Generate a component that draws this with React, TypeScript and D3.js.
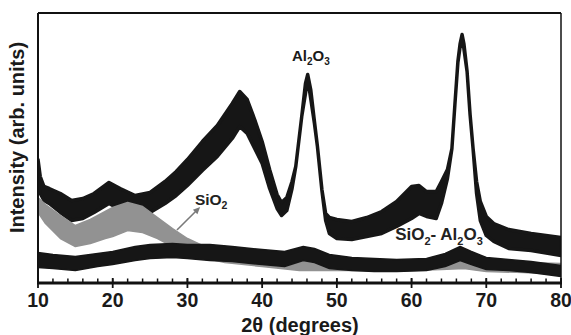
import React from "react";
import * as d3 from "d3";

// 2θ (degrees), upper and lower edge of the noisy trace (arb. units)
const al2o3Angle = [10.0, 10.3, 10.8, 11.5, 13, 14.5, 16, 17.5, 19.5, 21, 23, 25, 27, 28.5, 30, 32, 34, 36, 37, 38, 39, 40, 41, 42, 42.6, 43.3, 44, 44.5, 45.3, 45.8, 46.1, 46.5, 47.0, 47.4, 48.0, 48.5, 49, 50, 52, 54, 56, 58, 60, 61, 62, 63.3, 64, 64.8, 65.4, 65.8, 66.2, 66.5, 66.76, 67.0, 67.43, 67.83, 68.23, 68.7, 69.2, 70, 71, 73, 76, 80];
const al2o3Upper = [125, 108, 98, 96, 91, 84, 86, 91, 102, 96, 89, 92, 103, 113, 125, 143, 159, 181, 193, 185, 165, 143, 115, 90, 82, 87, 103, 118, 168, 201, 210, 195, 163, 138, 95, 71, 67, 65, 63, 67, 73, 83, 98, 99, 93, 93, 103, 115, 136, 180, 223, 241, 250, 241, 213, 170, 136, 103, 83, 68, 61, 55, 51, 47];
const al2o3Lower = [98, 88, 81, 78, 69, 61, 63, 69, 78, 72, 65, 69, 78, 86, 96, 111, 125, 143, 155, 148, 133, 118, 93, 73, 66, 71, 93, 115, 165, 188, 203, 183, 158, 135, 91, 61, 48, 43, 42, 45, 48, 55, 63, 68, 65, 63, 78, 103, 133, 177, 219, 235, 243, 233, 210, 167, 133, 88, 61, 46, 40, 33, 31, 26];

const sio2Angle = [10, 11, 13, 15, 17, 19, 20, 22, 24, 26, 28, 30, 32, 35, 40, 45, 50, 55, 60, 64, 67, 70, 75, 80];
const sio2Upper = [87, 80, 69, 59, 65, 73, 77, 82, 78, 67, 56, 46, 39, 33, 29, 26, 24, 24, 24, 25, 31, 23, 22, 21];
const sio2Lower = [69, 58, 43, 35, 38, 43, 45, 51, 49, 43, 35, 29, 24, 19, 15, 11, 11, 11, 11, 12, 13, 10, 9, 7];

const mixAngle = [10, 12, 15, 18, 20, 23, 25, 28, 30, 33, 36, 40, 43, 45.5, 47, 49, 52, 55, 58, 62, 64.5, 66.5, 68, 70, 73, 76, 80];
const mixUpper = [32, 30, 28, 31, 33, 38, 40, 41, 40, 40, 38, 35, 33, 38, 36, 30, 27, 26, 25, 26, 31, 38, 33, 27, 25, 23, 19];
const mixLower = [14, 13, 11, 15, 17, 21, 23, 24, 23, 21, 20, 17, 15, 21, 19, 13, 11, 10, 10, 11, 15, 21, 17, 12, 11, 9, 5];

const xTickLabels = [10, 20, 30, 40, 50, 60, 70, 80];
const xMinorTicks = d3.range(10, 81, 2);

const W = 571;
const H = 335;
const L = 38, R = 561, T = 13, B = 283;

type Pt = { t: number; hi: number; lo: number };
const zip = (a: number[], hi: number[], lo: number[]): Pt[] =>
  a.map((t, i) => ({ t, hi: hi[i], lo: lo[i] }));

export default function App() {
  const x = d3.scaleLinear().domain([10, 80]).range([L, R]);
  const y = d3.scaleLinear().domain([0, 270]).range([B, T]);
  const inset = 1.5;
  const area = d3
    .area<Pt>()
    .x((d) => x(d.t))
    .y0((d) => Math.max(y(d.lo) - inset, (y(d.lo) + y(d.hi)) / 2))
    .y1((d) => Math.min(y(d.hi) + inset, (y(d.lo) + y(d.hi)) / 2))
    .curve(d3.curveLinear);

  const font = "'Liberation Sans', Arial, Helvetica, sans-serif";
  const black = "#161616";
  const gray = "#929292";

  // arrow
  const ax1 = x(28.6), ay1 = y(53), ax2 = x(31.7), ay2 = y(76);
  const ang = Math.atan2(ay2 - ay1, ax2 - ax1);
  const hl = 7, hw = 3.2;
  const head = [
    [ax2, ay2],
    [ax2 - hl * Math.cos(ang) + hw * Math.sin(ang), ay2 - hl * Math.sin(ang) - hw * Math.cos(ang)],
    [ax2 - hl * Math.cos(ang) - hw * Math.sin(ang), ay2 - hl * Math.sin(ang) + hw * Math.cos(ang)],
  ];

  return (
    <svg
      width={W}
      height={H}
      style={{ position: "absolute", left: 0, top: 0, display: "block", background: "#fff" }}
      fontFamily={font}
    >
      <defs>
        <clipPath id="plot">
          <rect x={L} y={T} width={R - L} height={B - T - 1} />
        </clipPath>
      </defs>
      <g clipPath="url(#plot)">
        <path d={area(zip(al2o3Angle, al2o3Upper, al2o3Lower)) || ""} fill={black} stroke={black} strokeWidth={3.5} strokeLinejoin="round" />
        <path d={area(zip(sio2Angle, sio2Upper, sio2Lower)) || ""} fill={gray} stroke={gray} strokeWidth={1.5} strokeLinejoin="round" />
        <path d={area(zip(mixAngle, mixUpper, mixLower)) || ""} fill={black} stroke={black} strokeWidth={1.5} strokeLinejoin="round" />
      </g>

      {/* frame */}
      <line x1={L} x2={R} y1={T} y2={T} stroke="#111" strokeWidth={2} />
      <line x1={L} x2={L} y1={T} y2={B} stroke="#111" strokeWidth={2} />
      <line x1={R} x2={R} y1={T} y2={B} stroke="#111" strokeWidth={1.5} />
      <line x1={L - 1} x2={R + 1} y1={B} y2={B} stroke="#111" strokeWidth={3} />

      {/* ticks */}
      {xMinorTicks.map((v) => (
        <line key={"m" + v} x1={x(v)} x2={x(v)} y1={B - 4.5} y2={B} stroke="#111" strokeWidth={1.5} />
      ))}
      {xTickLabels.map((v) => (
        <g key={"t" + v}>
          <line x1={x(v)} x2={x(v)} y1={B - 5} y2={B + 5} stroke="#111" strokeWidth={1.8} />
          <text x={x(v)} y={307} textAnchor="middle" fontSize={19.5} fontWeight="bold" fill="#1a1a1a">
            {v}
          </text>
        </g>
      ))}

      {/* axis titles */}
      <text x={(L + R) / 2 + 0.5} y={332} textAnchor="middle" fontSize={20} fontWeight="bold" fill="#1a1a1a">
        2θ (degrees)
      </text>
      <text
        transform={`translate(24,137.5) rotate(-90)`}
        textAnchor="middle"
        fontSize={20}
        fontWeight="bold"
        fill="#1a1a1a"
      >
        Intensity (arb. units)
      </text>

      {/* annotations */}
      <text x={x(44.0)} y={y(222)} fontSize={15} fontWeight="bold" fill="#1a1a1a">
        Al<tspan fontSize={10} dy={3.5}>2</tspan>
        <tspan dy={-3.5}>O</tspan>
        <tspan fontSize={10} dy={3.5}>3</tspan>
      </text>
      <text x={x(31.0)} y={y(78)} fontSize={15.5} fontWeight="bold" fill="#222">
        SiO<tspan fontSize={10.5} dy={4}>2</tspan>
      </text>
      <text x={x(57.8)} y={y(43)} fontSize={17} fontWeight="bold" fill="#222">
        SiO<tspan fontSize={11} dy={4.5}>2</tspan>
        <tspan dy={-4.5}>- Al</tspan>
        <tspan fontSize={11} dy={4.5}>2</tspan>
        <tspan dy={-4.5}>O</tspan>
        <tspan fontSize={11} dy={4.5}>3</tspan>
      </text>
      <line x1={ax1} y1={ay1} x2={ax2 - 5 * Math.cos(ang)} y2={ay2 - 5 * Math.sin(ang)} stroke="#7a7a7a" strokeWidth={1.6} />
      <polygon points={head.map((p) => p.join(",")).join(" ")} fill="#7a7a7a" />
    </svg>
  );
}
